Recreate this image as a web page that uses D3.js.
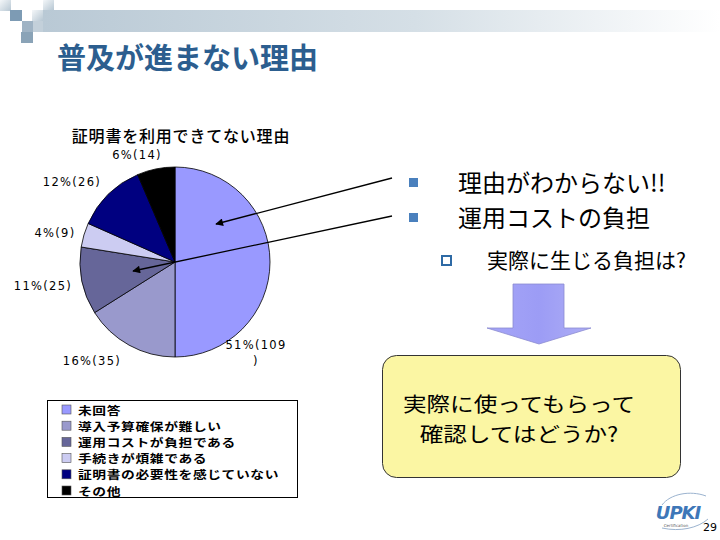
<!DOCTYPE html>
<html><head><meta charset="utf-8">
<script src="https://cdn.jsdelivr.net/npm/d3@7"></script>
<style>
html,body{margin:0;padding:0;background:#fff;}
svg{display:block;}
</style></head>
<body>
<svg id="c" width="720" height="540"></svg>
<script>
// ---- data ----
const slideTitle = "普及が進まない理由";
const chartTitle = "証明書を利用できてない理由";
const categories = ["未回答", "導入予算確保が難しい", "運用コストが負担である", "手続きが煩雑である", "証明書の必要性を感じていない", "その他"];
const values = [109, 35, 25, 9, 26, 14];
const percents = [51, 16, 11, 4, 12, 6];
const colors = ["#9999ff", "#9999cc", "#666699", "#ccccf2", "#000080", "#000000"];
const bullets = ["理由がわからない!!", "運用コストの負担"];
const subBullet = "実際に生じる負担は?";
const calloutLines = ["実際に使ってもらって", "確認してはどうか?"];
const pageNumber = "29";

// ---- layout ----
const svg = d3.select("#c");
const JP = "'Noto Sans CJK JP','Noto Sans',sans-serif";
const defs = svg.append("defs");

// header bar gradient
const g1 = defs.append("linearGradient").attr("id","hbar").attr("x1","0").attr("x2","1");
g1.append("stop").attr("offset","0").attr("stop-color","#b9c9d5");
g1.append("stop").attr("offset","0.55").attr("stop-color","#d5dfe6");
g1.append("stop").attr("offset","1").attr("stop-color","#ffffff");
svg.append("rect").attr("x",43).attr("y",10).attr("width",677).attr("height",22).attr("fill","url(#hbar)");

const g2 = defs.append("linearGradient").attr("id","sq").attr("x1","0").attr("y1","0").attr("x2","1").attr("y2","1");
g2.append("stop").attr("offset","0").attr("stop-color","#f4f7f9");
g2.append("stop").attr("offset","1").attr("stop-color","#b7c7d3");
const squares = [
  {x:0,y:0,w:11,h:11,f:"url(#sq)"},
  {x:43,y:0,w:11,h:10,f:"url(#sq)"},
  {x:10,y:10,w:12,h:11,f:"#7d9bb4"},
  {x:32,y:10,w:11,h:11,f:"url(#sq)"},
  {x:22,y:21,w:11,h:11,f:"#9fb3c4"},
  {x:33,y:21,w:10,h:11,f:"#c3d0da"},
  {x:21,y:32,w:12,h:11,f:"#8aa3b7"}
];
svg.selectAll("rect.sq").data(squares).join("rect").attr("class","sq")
  .attr("x",d=>d.x).attr("y",d=>d.y).attr("width",d=>d.w).attr("height",d=>d.h).attr("fill",d=>d.f);

// slide title
svg.append("text").attr("x",57).attr("y",69).attr("font-family",JP).attr("font-weight","bold")
  .attr("font-size",29).attr("fill","#2c5e8f").text(slideTitle);

// chart title
svg.append("text").attr("x",181).attr("y",142).attr("text-anchor","middle").attr("font-family",JP)
  .attr("font-size",16).attr("font-weight",500).attr("letter-spacing",0.8).attr("fill","#000").text(chartTitle);

// pie
const cx = 175, cy = 262, r = 95;
const pie = d3.pie().sort(null).value(d=>d)(values);
const arc = d3.arc().innerRadius(0).outerRadius(r);
const pg = svg.append("g").attr("transform",`translate(${cx},${cy})`);
pg.selectAll("path").data(pie).join("path")
  .attr("d",arc).attr("fill",(d,i)=>colors[i]).attr("stroke","#000").attr("stroke-width",0.8);

// pie labels
const labelPos = [[256,349],[92,365],[43,290],[55,237],[72,186],[137,159]];
pie.forEach((d,i)=>{
  const full = `${percents[i]}%(${values[i]})`;
  const lines = full.length > 7 ? [full.slice(0,-1), full.slice(-1)] : [full];
  const t = svg.append("text").attr("text-anchor","middle").attr("font-family","'DejaVu Sans',sans-serif")
    .attr("font-size",11.5).attr("letter-spacing",1.3).attr("fill","#000");
  lines.forEach((ln,j)=>{
    t.append("tspan").attr("x",labelPos[i][0]).attr("y",labelPos[i][1]+j*16).text(ln);
  });
});

// legend
svg.append("rect").attr("x",47.5).attr("y",400.5).attr("width",250).attr("height",97)
  .attr("fill","#fff").attr("stroke","#000").attr("stroke-width",1);
const lg = svg.selectAll("g.lg").data(categories).join("g").attr("class","lg")
  .attr("transform",(d,i)=>`translate(62,${410+i*16.2})`);
lg.append("rect").attr("x",0).attr("y",-5).attr("width",9).attr("height",9)
  .attr("fill",(d,i)=>colors[i]).attr("stroke","#555").attr("stroke-width",0.6);
lg.append("text").attr("transform","translate(16,4.5) scale(1.25,1)").attr("font-family",JP).attr("font-size",11)
  .attr("font-weight",700).attr("letter-spacing",0.5).attr("fill","#000").text(d=>d);

// arrows from bullets to pie
const mk = defs.append("marker").attr("id","ah").attr("viewBox","0 0 10 10").attr("refX",9).attr("refY",5)
  .attr("markerWidth",7).attr("markerHeight",6).attr("orient","auto-start-reverse");
mk.append("path").attr("d","M0,0L10,5L0,10z").attr("fill","#000");
const arrowLines = [[392,178,216,224],[392,216,133,271]];
svg.selectAll("line.ar").data(arrowLines).join("line").attr("class","ar")
  .attr("x1",d=>d[0]).attr("y1",d=>d[1]).attr("x2",d=>d[2]).attr("y2",d=>d[3])
  .attr("stroke","#000").attr("stroke-width",1.3).attr("marker-end","url(#ah)");

// bullets
bullets.forEach((b,i)=>{
  const y = 183 + i*35;
  svg.append("rect").attr("x",409).attr("y",y-5).attr("width",9).attr("height",9).attr("fill","#4a80bd");
  svg.append("text").attr("x",458).attr("y",y+9).attr("font-family",JP).attr("font-size",24)
    .attr("fill","#000").text(b);
});
svg.append("rect").attr("x",442).attr("y",256).attr("width",9).attr("height",9)
  .attr("fill","none").attr("stroke","#2e6aa5").attr("stroke-width",2);
svg.append("text").attr("x",487).attr("y",268).attr("font-family",JP).attr("font-size",21)
  .attr("fill","#000").text(subBullet);

// down arrow
const g3 = defs.append("linearGradient").attr("id","ar").attr("x1","0").attr("x2","1");
g3.append("stop").attr("offset","0").attr("stop-color","#a5a5f7");
g3.append("stop").attr("offset","0.5").attr("stop-color","#9c9cf5");
g3.append("stop").attr("offset","1").attr("stop-color","#aeaef5");
svg.append("path").attr("d","M513,284H564V328H591L539,344L487,328H513Z")
  .attr("fill","url(#ar)").attr("stroke","#8c8cd0").attr("stroke-width",0.8);

// callout box
svg.append("rect").attr("x",382.5).attr("y",355.5).attr("width",298).attr("height",122).attr("rx",14)
  .attr("fill","#fbf6a3").attr("stroke","#333").attr("stroke-width",1);
calloutLines.forEach((ln,i)=>{
  svg.append("text").attr("transform",`translate(519,${412+i*30}) scale(1.15,1)`).attr("text-anchor","middle")
    .attr("font-family",JP).attr("font-size",20.5).attr("fill","#000").text(ln);
});

// UPKI logo & page number
svg.append("path").attr("d","M662,505C670,494 690,490 706,496").attr("fill","none").attr("stroke","#9bb3cf").attr("stroke-width",1);
svg.append("path").attr("d","M662,528C680,532 698,528 708,519").attr("fill","none").attr("stroke","#9bb3cf").attr("stroke-width",1);
svg.append("text").attr("x",678).attr("y",519).attr("text-anchor","middle").attr("font-family","'DejaVu Sans',sans-serif")
  .attr("font-style","italic").attr("font-weight","bold").attr("font-size",18).attr("fill","#3e77b8").attr("letter-spacing",-1).text("UPKI");
svg.append("text").attr("x",676).attr("y",527).attr("text-anchor","middle").attr("font-family","'DejaVu Sans',sans-serif")
  .attr("font-size",4).attr("fill","#555").text("Certification");
svg.append("text").attr("x",710).attr("y",531).attr("text-anchor","middle").attr("font-family","'DejaVu Sans',sans-serif")
  .attr("font-size",11).attr("fill","#000").text(pageNumber);
</script>
</body></html>
